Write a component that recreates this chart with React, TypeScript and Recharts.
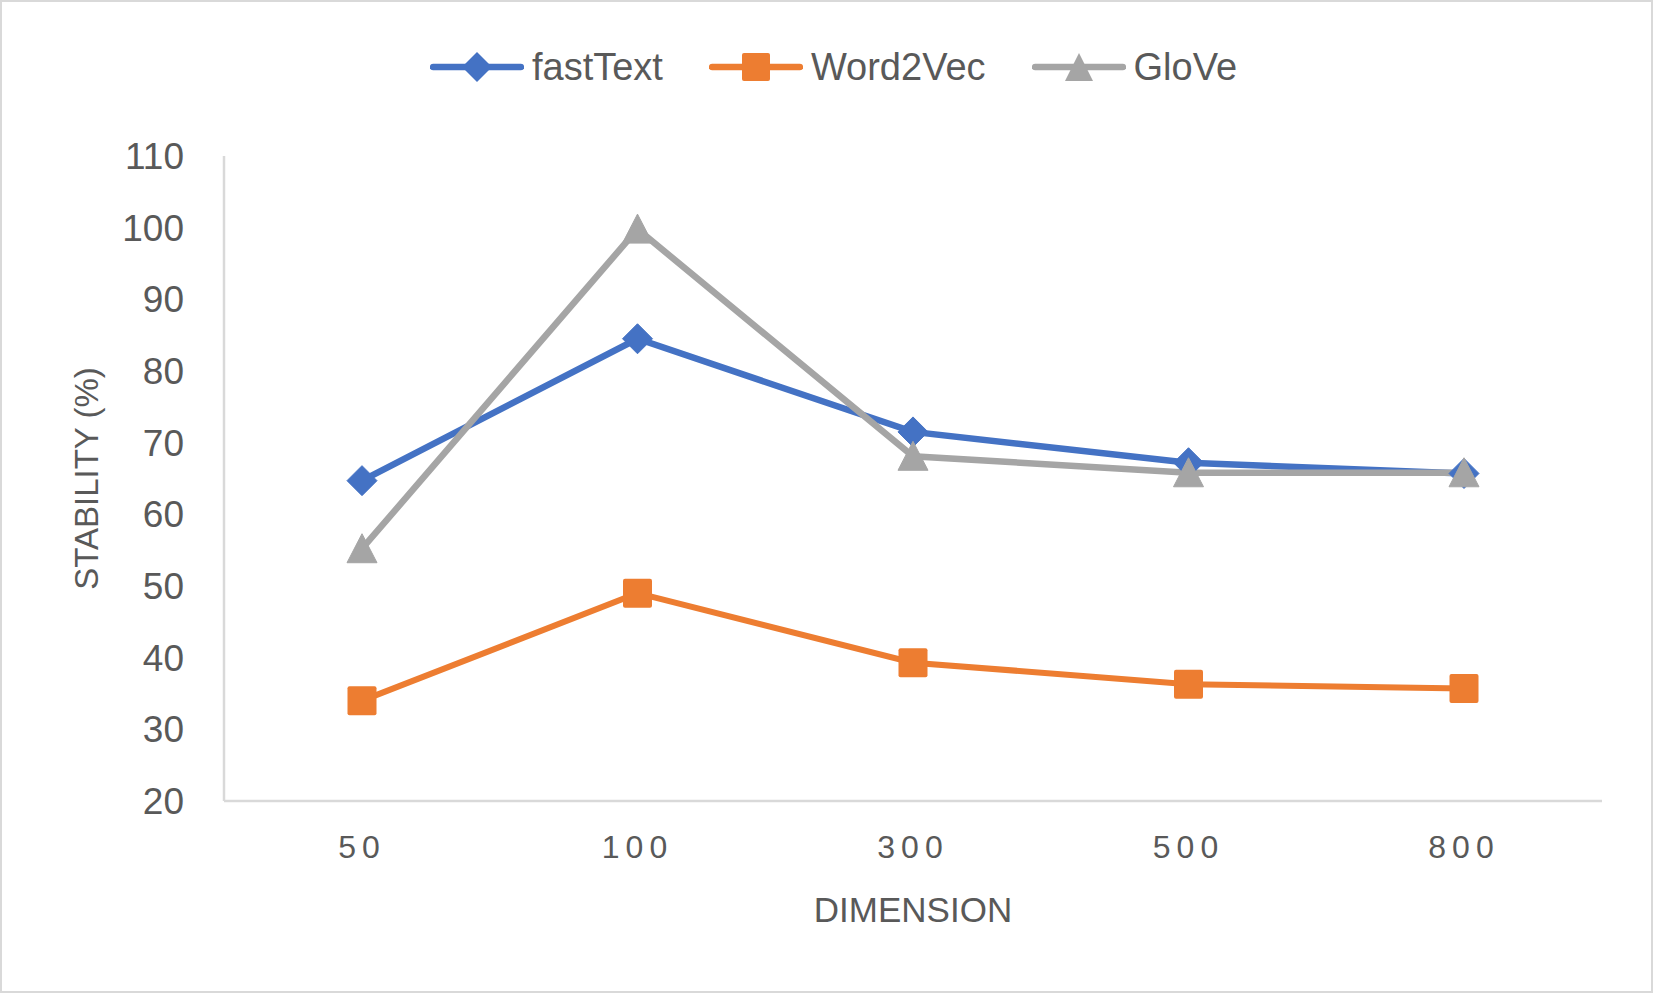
import { CartesianGrid, Label, Legend, Line, LineChart, XAxis, YAxis } from "recharts";

const DIMENSIONS = ["50", "100", "300", "500", "800"];
const FASTTEXT = [64.7, 84.5, 71.5, 67.2, 65.7];
const WORD2VEC = [34.0, 49.0, 39.3, 36.3, 35.7];
const GLOVE = [55.2, 99.8, 68.1, 65.8, 65.8];
const Y_TICKS = [20, 30, 40, 50, 60, 70, 80, 90, 100, 110];

const BLUE = "#4472C4";
const ORANGE = "#ED7D31";
const GREY = "#A5A5A5";
const TEXT = "#595959";
const AXIS = "#D9D9D9";
const FONT = "'Liberation Sans', Arial, sans-serif";

const W = 1653;
const H = 993;

const data = DIMENSIONS.map((d, i) => ({
  dim: d,
  fastText: FASTTEXT[i],
  word2vec: WORD2VEC[i],
  glove: GLOVE[i],
}));

const M = 15; // marker half size

function diamond(p: any) {
  const { cx, cy } = p;
  return (
    <path
      key={`d-${p.index}`}
      d={`M${cx},${cy - M} L${cx + M},${cy} L${cx},${cy + M} L${cx - M},${cy} Z`}
      fill={BLUE}
      stroke={BLUE}
      strokeWidth={1}
      strokeLinejoin="round"
    />
  );
}

function square(p: any) {
  const { cx, cy } = p;
  return (
    <rect
      key={`s-${p.index}`}
      x={cx - 14.5}
      y={cy - 14.5}
      width={29}
      height={29}
      rx={2}
      fill={ORANGE}
    />
  );
}

function triangle(p: any) {
  const { cx, cy } = p;
  return (
    <path
      key={`t-${p.index}`}
      d={`M${cx},${cy - M} L${cx + M},${cy + 14} L${cx - M},${cy + 14} Z`}
      fill={GREY}
      stroke={GREY}
      strokeWidth={1}
      strokeLinejoin="round"
    />
  );
}

const LEGEND_ITEMS = [
  { name: "fastText", color: BLUE, shape: "diamond" },
  { name: "Word2Vec", color: ORANGE, shape: "square" },
  { name: "GloVe", color: GREY, shape: "triangle" },
];

function LegendIcon({ color, shape }: { color: string; shape: string }) {
  return (
    <svg width={94} height={34} style={{ display: "block" }}>
      <line x1={3} y1={17} x2={91} y2={17} stroke={color} strokeWidth={6.5} strokeLinecap="round" />
      {shape === "diamond" && <path d="M47,2 L62,17 L47,32 L32,17 Z" fill={color} />}
      {shape === "square" && <rect x={33} y={3} width={28} height={28} rx={2} fill={color} />}
      {shape === "triangle" && <path d="M47,3 L61,31 L33,31 Z" fill={color} />}
    </svg>
  );
}

function renderLegend() {
  return (
    <div
      style={{
        display: "flex",
        justifyContent: "center",
        alignItems: "center",
        gap: 46,
        paddingLeft: 14,
      }}
    >
      {LEGEND_ITEMS.map((it) => (
        <div key={it.name} style={{ display: "flex", alignItems: "center", gap: 8 }}>
          <LegendIcon color={it.color} shape={it.shape} />
          <span style={{ fontFamily: FONT, fontSize: 38, color: TEXT, lineHeight: "42px" }}>{it.name}</span>
        </div>
      ))}
    </div>
  );
}

export default function App() {
  return (
    <div
      style={{
        position: "absolute",
        left: 0,
        top: 0,
        width: W,
        height: H,
        boxSizing: "border-box",
        border: `2px solid ${AXIS}`,
        background: "#fff",
      }}
    >
      <LineChart
        width={W - 4}
        height={H - 4}
        data={data}
        margin={{ top: 154, right: 49, left: 0, bottom: 50 }}
      >
        <CartesianGrid stroke="transparent" />
        <XAxis
          dataKey="dim"
          padding={{ left: 138, right: 138 }}
          axisLine={{ stroke: AXIS, strokeWidth: 2.5 }}
          tickLine={false}
          tickSize={0}
          tickMargin={34}
          height={140}
          tick={{ fill: TEXT, fontSize: 32, fontFamily: FONT, letterSpacing: 6 }}
        >
          <Label
            content={({ viewBox }: any) => {
              const cx = viewBox.x + viewBox.width / 2;
              const cy = viewBox.y + 108;
              return (
                <text x={cx} y={cy} textAnchor="middle" dominantBaseline="central" fill={TEXT} fontSize={35} fontFamily={FONT}>
                  DIMENSION
                </text>
              );
            }}
          />
        </XAxis>
        <YAxis
          domain={[20, 110]}
          ticks={Y_TICKS}
          interval={0}
          width={222}
          axisLine={{ stroke: AXIS, strokeWidth: 2.5 }}
          tickLine={false}
          tickSize={0}
          tickMargin={40}
          tick={{ fill: TEXT, fontSize: 37, fontFamily: FONT }}
        >
          <Label
            content={({ viewBox }: any) => {
              const cx = viewBox.x + 84;
              const cy = viewBox.y + viewBox.height / 2;
              return (
                <text
                  x={cx}
                  y={cy}
                  transform={`rotate(-90 ${cx} ${cy})`}
                  textAnchor="middle"
                  dominantBaseline="central"
                  fill={TEXT}
                  fontSize={33}
                  fontFamily={FONT}
                >
                  STABILITY (%)
                </text>
              );
            }}
          />
        </YAxis>
        <Legend
          verticalAlign="middle"
          align="center"
          content={renderLegend}
          wrapperStyle={{ top: 44, left: 0, width: W - 4 }}
        />
        <Line
          dataKey="fastText"
          name="fastText"
          stroke={BLUE}
          strokeWidth={6.5}
          dot={diamond}
          activeDot={false}
          isAnimationActive={false}
        />
        <Line
          dataKey="word2vec"
          name="Word2Vec"
          stroke={ORANGE}
          strokeWidth={6}
          dot={square}
          activeDot={false}
          isAnimationActive={false}
        />
        <Line
          dataKey="glove"
          name="GloVe"
          stroke={GREY}
          strokeWidth={6.5}
          dot={triangle}
          activeDot={false}
          isAnimationActive={false}
        />
      </LineChart>
    </div>
  );
}
